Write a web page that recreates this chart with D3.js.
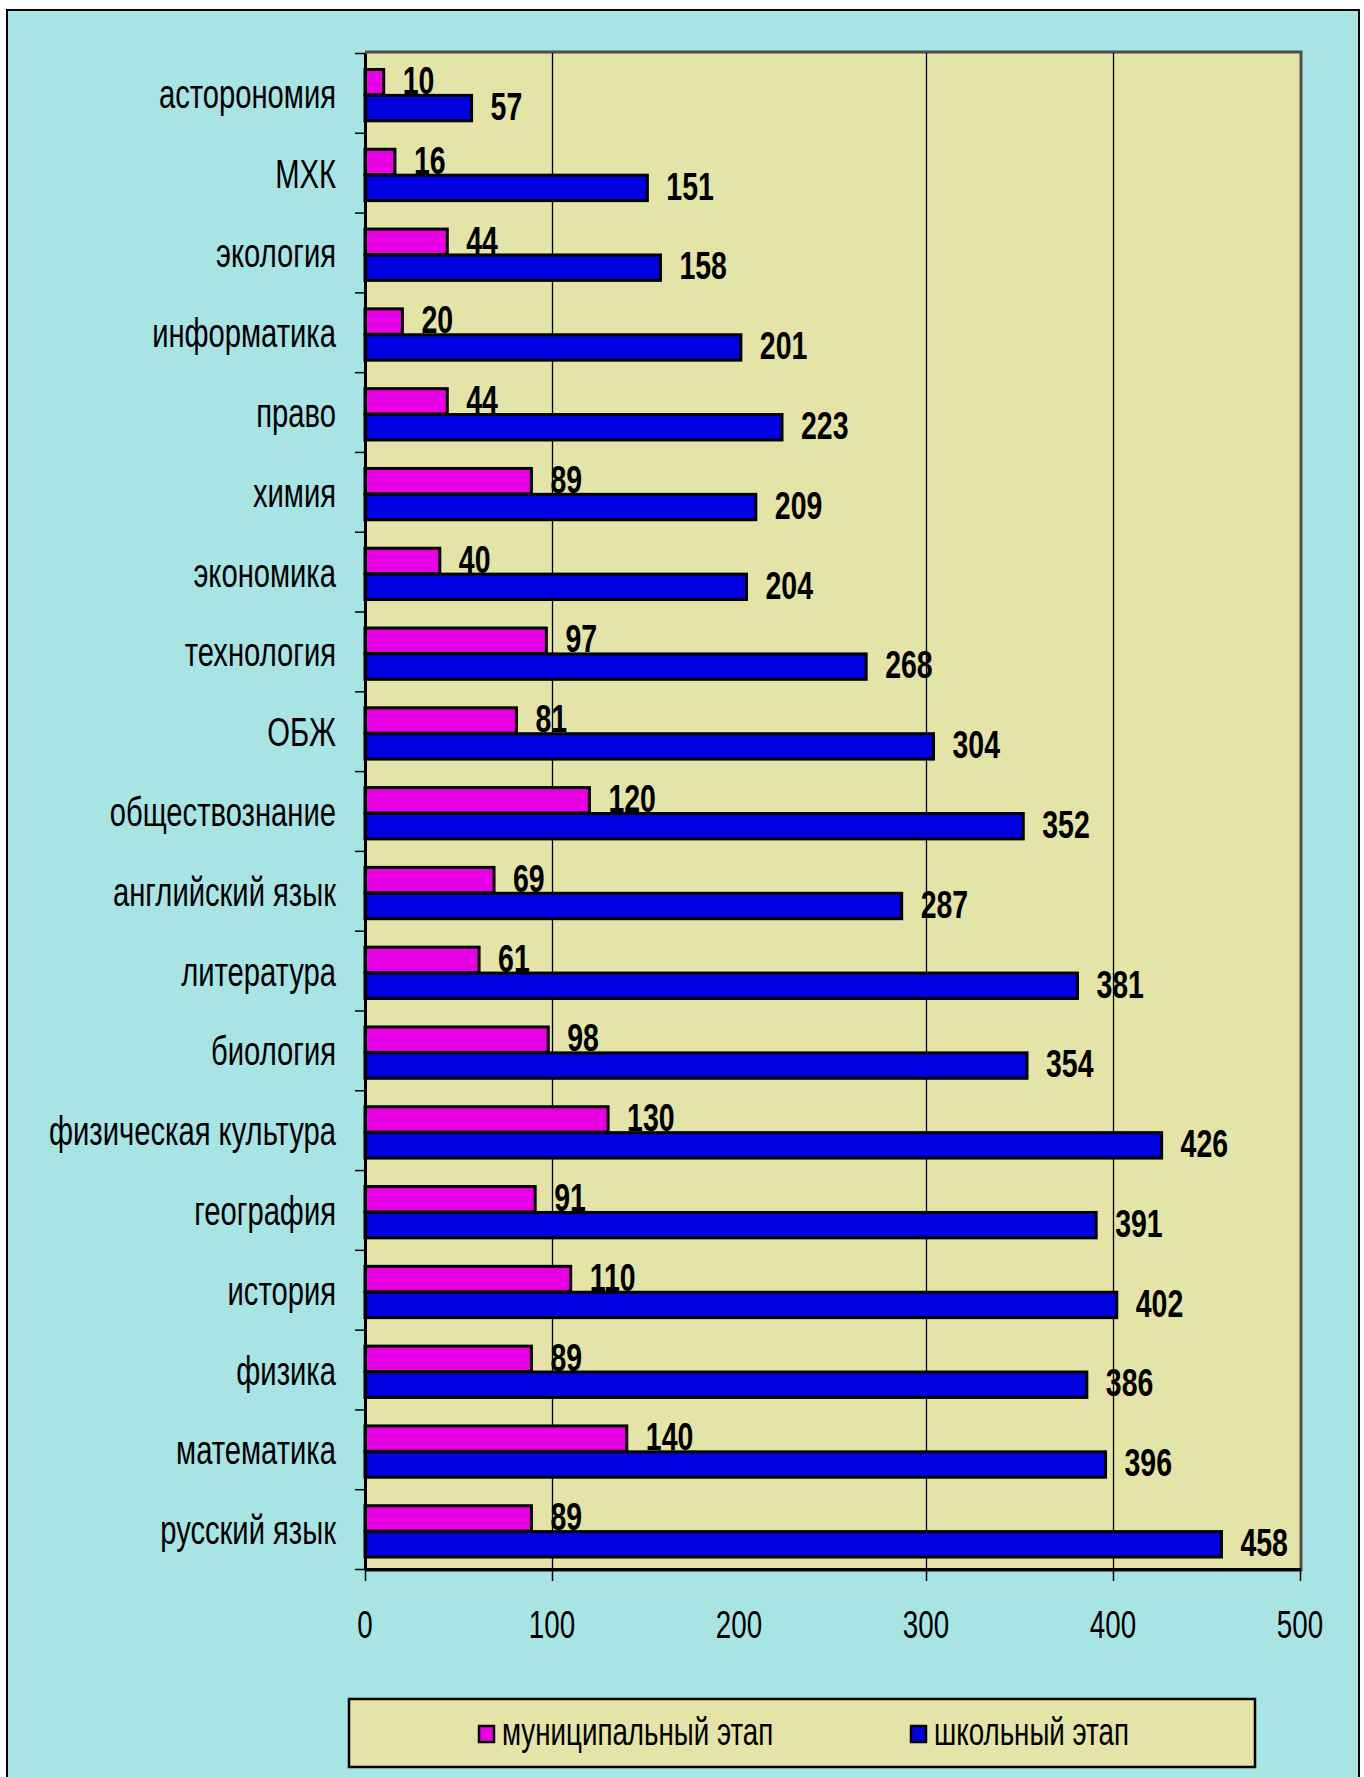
<!DOCTYPE html>
<html lang="ru">
<head>
<meta charset="utf-8">
<script src="https://d3js.org/d3.v7.min.js"></script>
<style>
  * { margin: 0; padding: 0; }
  body { background: #fff; width: 1364px; height: 1777px; overflow: hidden; }
  svg { display: block; font-family: "Liberation Sans", Arial, sans-serif; }
</style>
</head>
<body>
<svg id="chart" width="1364" height="1777"></svg>
<script>
// subjects, top to bottom as in the picture
const subjects = ['асторономия', 'МХК', 'экология', 'информатика', 'право', 'химия',
  'экономика', 'технология', 'ОБЖ', 'обществознание', 'английский язык', 'литература',
  'биология', 'физическая культура', 'география', 'история', 'физика', 'математика',
  'русский язык'];
const seriesNames = ['муниципальный этап', 'школьный этап'];
const municipal = [10, 16, 44, 20, 44, 89, 40, 97, 81, 120, 69, 61, 98, 130, 91, 110, 89, 140, 89];
const school = [57, 151, 158, 201, 223, 209, 204, 268, 304, 352, 287, 381, 354, 426, 391, 402, 386, 396, 458];
const xTicks = [0, 100, 200, 300, 400, 500];
// the 200 line and tick are missing in the original
const xGrid = [100, 300, 400];
const xTickMarks = [0, 100, 300, 400, 500];

const colors = { 'муниципальный этап': '#e600e3', 'школьный этап': '#0000e0' };
const sx = 0.73; // narrow font look

const rows = subjects.map((s, i) => ({
  name: s,
  values: [{ key: seriesNames[0], v: municipal[i] }, { key: seriesNames[1], v: school[i] }]
}));

const svg = d3.select('#chart');
const L = 365, R = 1300, T = 53, B = 1569;

// outer chart area
svg.append('rect').attr('x', 7).attr('y', 10).attr('width', 1352).attr('height', 1790)
  .attr('fill', '#a8e4e4').attr('stroke', '#000').attr('stroke-width', 2);

const x = d3.scaleLinear().domain([0, 500]).range([L, R]);
const y = d3.scaleBand().domain(subjects).range([T, B]);
const yIdx = d3.scaleLinear().domain([0, subjects.length]).range([T, B]);
const bw = y.bandwidth();
const ySub = d3.scaleBand().domain(seriesNames).range([15, bw - 13]);

// plot background
svg.append('rect').attr('x', L).attr('y', T).attr('width', R - L).attr('height', B - T)
  .attr('fill', '#e4e4a8');
// shadow-like border top/right
svg.append('path').attr('d', `M${L},${T - 1}H${R + 1}V${B + 2}`)
  .attr('fill', 'none').attr('stroke', '#4d4d4d').attr('stroke-width', 3);
svg.append('line').attr('x1', L).attr('x2', R + 2).attr('y1', B + 2).attr('y2', B + 2)
  .attr('stroke', '#555').attr('stroke-width', 1.5);

// gridlines
svg.append('g').attr('transform', `translate(0,${B})`)
  .call(d3.axisBottom(x).tickValues(xGrid).tickSize(-(B - T)).tickFormat(''))
  .call(g => g.select('.domain').remove())
  .call(g => g.selectAll('line').attr('stroke', '#000').attr('stroke-width', 1.3));

// bars
const grp = svg.append('g').selectAll('g').data(rows).join('g')
  .attr('transform', d => `translate(0,${y(d.name)})`);

grp.selectAll('rect').data(d => d.values).join('rect')
  .attr('x', x(0))
  .attr('y', d => ySub(d.key) + 1.5)
  .attr('width', d => x(d.v) - x(0))
  .attr('height', ySub.bandwidth() - 0.5)
  .attr('fill', d => colors[d.key])
  .attr('stroke', '#000').attr('stroke-width', 3);

grp.selectAll('g.val').data(d => d.values).join('g').attr('class', 'val')
  .attr('transform', d => `translate(${x(d.v) + 19},${ySub(d.key) + ySub.bandwidth() / 2 + 13}) scale(${sx},1)`)
  .append('text')
  .attr('font-size', 39).attr('font-weight', 'bold').attr('fill', '#000')
  .text(d => d.v);

// y axis: ticks on band boundaries
svg.append('g').attr('transform', `translate(${L},0)`)
  .call(d3.axisLeft(yIdx).ticks(subjects.length).tickSize(10).tickSizeOuter(0).tickFormat(''))
  .call(g => g.select('.domain').attr('stroke-width', 3))
  .call(g => g.selectAll('.tick line').attr('stroke-width', 1.5));

// category labels
svg.append('g').selectAll('g').data(subjects).join('g')
  .attr('transform', d => `translate(336,${y(d) + bw / 2 + 15}) scale(${sx},1)`)
  .append('text')
  .attr('text-anchor', 'end').attr('font-size', 40).attr('fill', '#000')
  .text(d => d);

// x axis line + tick marks
svg.append('g').attr('transform', `translate(0,${B})`)
  .call(d3.axisBottom(x).tickValues(xTickMarks).tickSize(12).tickSizeOuter(0).tickFormat(''))
  .call(g => g.select('.domain').attr('stroke-width', 3))
  .call(g => g.selectAll('.tick line').attr('stroke-width', 1.5));

// x tick labels
svg.append('g').selectAll('g').data(xTicks).join('g')
  .attr('transform', d => `translate(${x(d)},${B + 69}) scale(${sx},1)`)
  .append('text')
  .attr('text-anchor', 'middle').attr('font-size', 38).attr('fill', '#000')
  .text(d => d);

// legend
const lg = svg.append('g');
lg.append('rect').attr('x', 349).attr('y', 1699).attr('width', 906).attr('height', 68)
  .attr('fill', '#e4e4a8').attr('stroke', '#000').attr('stroke-width', 2.5);
const legendX = d3.scaleOrdinal().domain(seriesNames).range([478, 910]);
const items = lg.selectAll('g.item').data(seriesNames).join('g').attr('class', 'item')
  .attr('transform', d => `translate(${legendX(d)},1725)`);
items.append('rect').attr('x', 1).attr('y', 1).attr('width', 15).attr('height', 16)
  .attr('fill', d => colors[d]).attr('stroke', '#000').attr('stroke-width', 2.5);
items.append('g').attr('transform', `translate(24,20) scale(${sx},1)`)
  .append('text').attr('font-size', 38).attr('fill', '#000').text(d => d);
</script>
</body>
</html>
